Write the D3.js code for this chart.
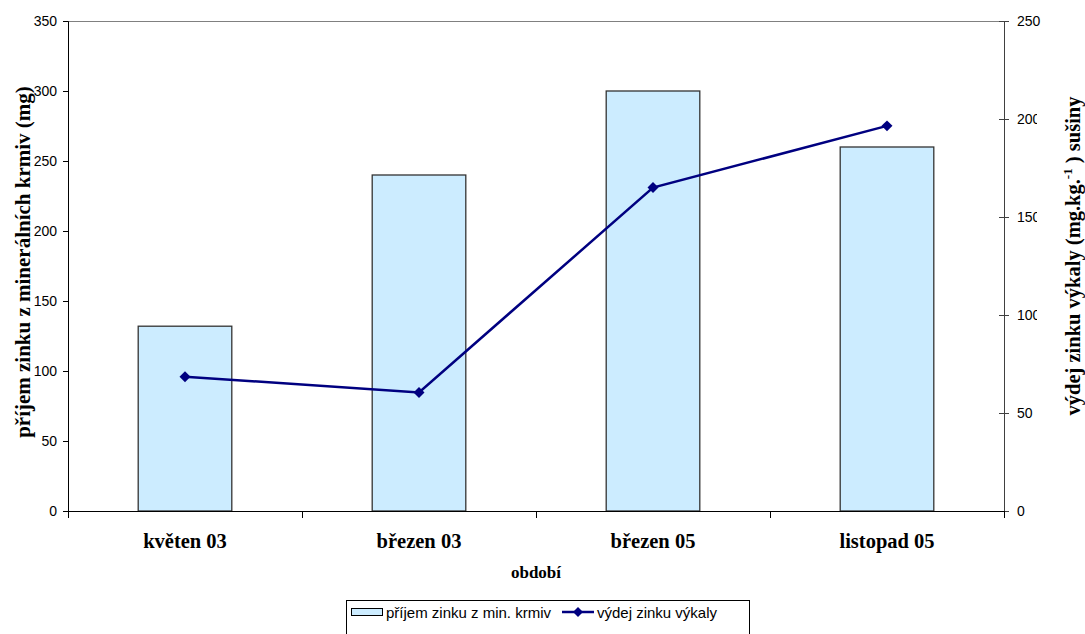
<!DOCTYPE html>
<html>
<head>
<meta charset="utf-8">
<script src="https://cdn.jsdelivr.net/npm/d3@7"></script>
<style>
  html, body { margin: 0; padding: 0; background: #fff; }
  svg { display: block; }
  .tick text { font-family: Arial, "Liberation Sans", sans-serif; font-size: 14px; fill: #000; }
</style>
</head>
<body>
<svg id="chart" width="1085" height="634"></svg>
<script>
// Zinc intake (bars, left axis) and faecal zinc output (line, right axis) per period
const periods = ["květen 03", "březen 03", "březen 05", "listopad 05"];
const intake = [132, 240, 300, 260];          // příjem zinku z min. krmiv (mg)
const output = [68.5, 60.5, 165, 196.5];      // výdej zinku výkaly (mg.kg-1 sušiny)
const leftTicks = [0, 50, 100, 150, 200, 250, 300, 350];
const rightTicks = [0, 50, 100, 150, 200, 250];

const svg = d3.select("#chart");
const plot = { left: 68, right: 1004, top: 21, bottom: 511 };
const serif = "'Liberation Serif', 'Times New Roman', serif";
const sans = "Arial, 'Liberation Sans', sans-serif";

const xOuter = d3.scaleBand().domain(periods).range([plot.left, plot.right]);
const yL = d3.scaleLinear().domain([0, 350]).range([plot.bottom, plot.top]);
const yR = d3.scaleLinear().domain([0, 250]).range([plot.bottom, plot.top]);

// plot area frame (top edge)
svg.append("line")
  .attr("x1", plot.left).attr("x2", plot.right)
  .attr("y1", plot.top + 0.5).attr("y2", plot.top + 0.5)
  .attr("stroke", "#808080").attr("stroke-width", 1);

// bars (gap width 150%)
const bw = xOuter.bandwidth() / 2.5;
svg.append("g").selectAll("rect").data(periods).join("rect")
  .attr("x", d => xOuter(d) + (xOuter.bandwidth() - bw) / 2)
  .attr("width", bw)
  .attr("y", (d, i) => yL(intake[i]))
  .attr("height", (d, i) => plot.bottom - yL(intake[i]))
  .attr("fill", "#CCECFF")
  .attr("stroke", "#333")
  .attr("stroke-width", 1.3);

// left axis
const axL = svg.append("g").attr("transform", `translate(${plot.left},0)`)
  .call(d3.axisLeft(yL).tickValues(leftTicks).tickSize(5).tickPadding(6));
axL.select(".domain").attr("stroke", "#000");
axL.selectAll(".tick line").attr("stroke", "#000");

// right axis
const axR = svg.append("g").attr("transform", `translate(${plot.right},0)`)
  .call(d3.axisRight(yR).tickValues(rightTicks).tickSizeInner(5).tickSizeOuter(0).tickPadding(8));
axR.select(".domain").attr("stroke", "#404040");
axR.selectAll(".tick line").attr("x1", -5).attr("x2", 5).attr("stroke", "#404040");

// bottom axis with ticks at category boundaries
const bounds = periods.map(p => xOuter(p)).concat([plot.right]);
svg.append("line")
  .attr("x1", plot.left).attr("x2", plot.right)
  .attr("y1", plot.bottom + 0.5).attr("y2", plot.bottom + 0.5)
  .attr("stroke", "#000");
svg.append("g").selectAll("line").data(bounds).join("line")
  .attr("x1", d => Math.round(d) + 0.5).attr("x2", d => Math.round(d) + 0.5)
  .attr("y1", plot.bottom).attr("y2", plot.bottom + 7)
  .attr("stroke", "#000");

// category labels
svg.append("g").selectAll("text").data(periods).join("text")
  .attr("x", d => xOuter(d) + xOuter.bandwidth() / 2)
  .attr("y", 548)
  .attr("text-anchor", "middle")
  .attr("font-family", serif)
  .attr("font-weight", "bold")
  .attr("font-size", 20.5)
  .text(d => d);

// line series
const cx = d => xOuter(d) + xOuter.bandwidth() / 2;
const line = d3.line().x((d, i) => cx(periods[i])).y(d => yR(d));
svg.append("path").datum(output)
  .attr("d", line)
  .attr("fill", "none")
  .attr("stroke", "#000080")
  .attr("stroke-width", 2.5);
svg.append("g").selectAll("path").data(output).join("path")
  .attr("d", d3.symbol(d3.symbolSquare, 60))
  .attr("transform", (d, i) => `translate(${cx(periods[i])},${yR(d)}) rotate(45)`)
  .attr("fill", "#000080");

// axis titles
svg.append("text")
  .attr("transform", "translate(30,262) rotate(-90)")
  .attr("text-anchor", "middle")
  .attr("font-family", serif).attr("font-weight", "bold").attr("font-size", 21)
  .text("příjem zinku z minerálních krmiv (mg)");

svg.append("text")
  .attr("x", (plot.left + plot.right) / 2).attr("y", 578)
  .attr("text-anchor", "middle")
  .attr("font-family", serif).attr("font-weight", "bold").attr("font-size", 17)
  .text("období");

// right title sits on a white box that overlaps the tick labels
svg.append("rect").attr("x", 1037).attr("y", 95).attr("width", 48).attr("height", 322).attr("fill", "#fff");
const rt = svg.append("text")
  .attr("transform", "translate(1080,256) rotate(-90)")
  .attr("text-anchor", "middle")
  .attr("font-family", serif).attr("font-weight", "bold").attr("font-size", 20.5);
rt.append("tspan").text("výdej zinku výkaly (mg.kg.");
rt.append("tspan").attr("font-size", 13).attr("dy", -8).text("-1");
rt.append("tspan").attr("dy", 8).text(" ) sušiny");

// legend
const lg = svg.append("g");
lg.append("rect").attr("x", 346.5).attr("y", 600.5).attr("width", 403).attr("height", 50)
  .attr("fill", "#fff").attr("stroke", "#000");
lg.append("rect").attr("x", 351.5).attr("y", 608.5).attr("width", 31).attr("height", 7)
  .attr("fill", "#CCECFF").attr("stroke", "#000");
lg.append("text").attr("x", 386).attr("y", 618)
  .attr("font-family", sans).attr("font-size", 15)
  .text("příjem zinku z min. krmiv");
lg.append("line").attr("x1", 562).attr("x2", 594).attr("y1", 612).attr("y2", 612)
  .attr("stroke", "#000080").attr("stroke-width", 2.5);
lg.append("path").attr("d", d3.symbol(d3.symbolSquare, 50))
  .attr("transform", "translate(578,612) rotate(45)").attr("fill", "#000080");
lg.append("text").attr("x", 597).attr("y", 618)
  .attr("font-family", sans).attr("font-size", 15)
  .text("výdej zinku výkaly");
</script>
</body>
</html>
